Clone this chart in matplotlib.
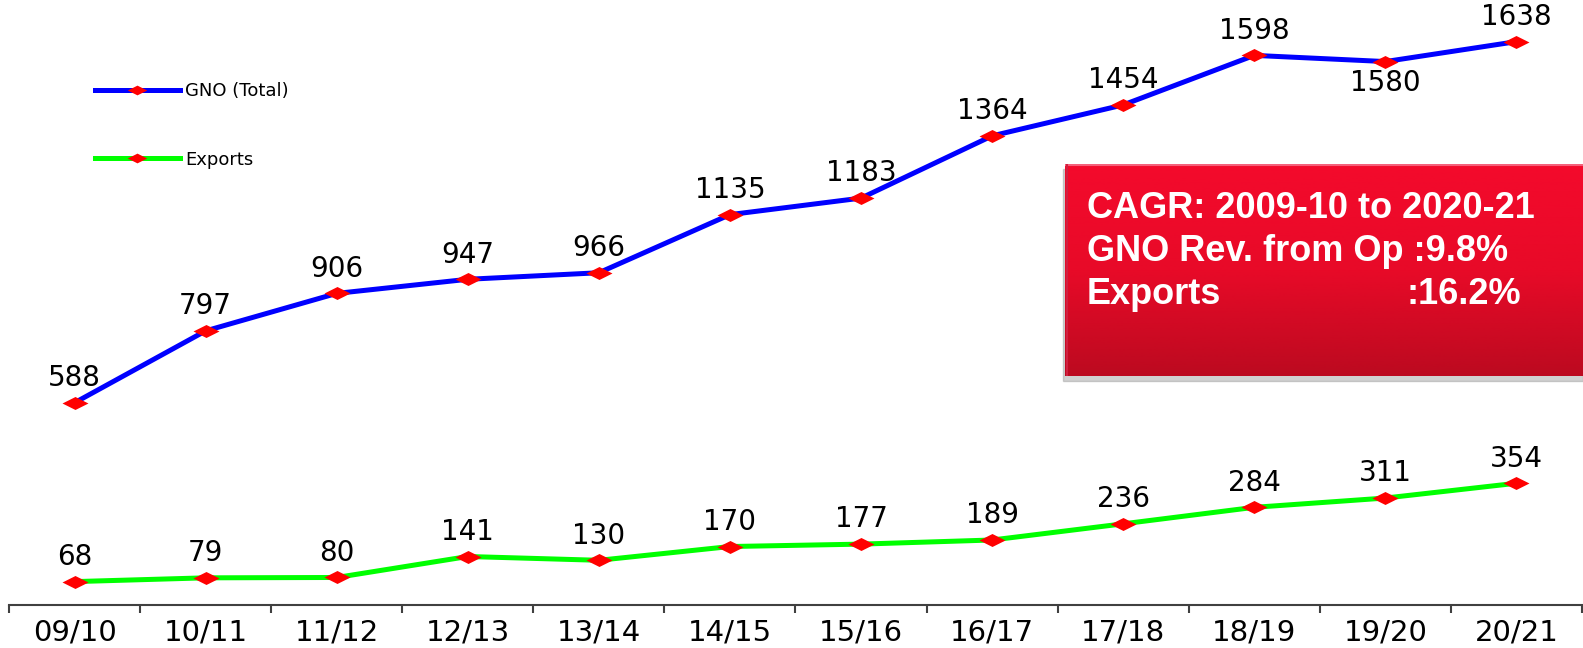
import numpy as np
import matplotlib
matplotlib.use("Agg")
import matplotlib.pyplot as plt
from matplotlib.colors import LinearSegmentedColormap
from matplotlib.patches import Rectangle

years = ["09/10", "10/11", "11/12", "12/13", "13/14", "14/15",
         "15/16", "16/17", "17/18", "18/19", "19/20", "20/21"]
gno_total = [588, 797, 906, 947, 966, 1135, 1183, 1364, 1454, 1598, 1580, 1638]
exports = [68, 79, 80, 141, 130, 170, 177, 189, 236, 284, 311, 354]
box_lines = ["CAGR: 2009-10 to 2020-21", "GNO Rev. from Op :9.8%", "Exports", ":16.2%"]

W, H = 1583, 648
fig = plt.figure(figsize=(W / 100, H / 100), dpi=100)
plt.rcParams['font.family'] = ['DejaVu Sans']

ax = fig.add_axes([9 / W, 1 - 605 / H, 1573 / W, 605 / H])
x = np.arange(len(years))
diamond = [(-1, 0), (0, 0.5), (1, 0), (0, -0.5), (-1, 0)]

ax.plot(x, gno_total, color='#0000FF', lw=3.6, marker=diamond, ms=18.7,
        mfc='#FF0000', mec='#FF0000', mew=0, label='GNO (Total)', zorder=3)
ax.plot(x, exports, color='#00FF00', lw=3.6, marker=diamond, ms=18.7,
        mfc='#FF0000', mec='#FF0000', mew=0, label='Exports', zorder=3)

ax.set_xlim(-0.5, 11.5)
ax.set_ylim(0, 1759)
for s in ['left', 'top', 'right']:
    ax.spines[s].set_visible(False)
ax.spines['bottom'].set_color('#404040')
ax.spines['bottom'].set_linewidth(1.5)
ax.set_yticks([])
ax.set_xticks(np.arange(-0.5, 12, 1))
ax.set_xticklabels([])
ax.tick_params(axis='x', which='major', length=6, width=1.5, color='#404040', direction='out')
ax.set_xticks(x, minor=True)
ax.set_xticklabels(years, minor=True, fontsize=21)
ax.tick_params(axis='x', which='minor', length=0, pad=10)
ax.patch.set_alpha(0)

def label(series, below=()):
    for i, v in enumerate(series):
        if i in below:
            ax.annotate(str(v), (i, v), xytext=(0, -21), textcoords='offset points',
                        ha='center', va='baseline', fontsize=20, color='black')
        else:
            ax.annotate(str(v), (i, v), xytext=(0, 12), textcoords='offset points',
                        ha='center', va='baseline', fontsize=20, color='black')

label(gno_total, below=(10,))
label(exports)

leg = ax.legend(loc='upper left', bbox_to_anchor=(95 / W, 1 - 82 / H),
                bbox_transform=fig.transFigure, frameon=False, fontsize=13,
                handlelength=4.7, handletextpad=0.3, labelspacing=2.8,
                borderpad=0, borderaxespad=0, markerscale=0.75, numpoints=1)

# CAGR box
bl, bt, bb = 1065, 164, 376
shadow = Rectangle(((bl - 2) / W, 1 - (bb + 5) / H), (W - bl + 2) / W, (bb - bt) / H,
                   transform=fig.transFigure, color='#999999', alpha=0.45, zorder=1)
fig.patches.append(shadow)
bax = fig.add_axes([bl / W, 1 - bb / H, (W - bl) / W, (bb - bt) / H], zorder=5)
cmap = LinearSegmentedColormap.from_list('r', ['#F40A2C', '#E80A28', '#BC0A20'])
grad = np.linspace(0, 1, 256).reshape(-1, 1)
bax.imshow(grad, aspect='auto', cmap=cmap, extent=[0, 1, 0, 1], origin='upper')
bax.plot([0, 1], [0.993, 0.993], color='#F4607A', lw=1.5)
bax.plot([0.003, 0.003], [0, 1], color='#D02040', lw=1.5)
bax.set_xlim(0, 1); bax.set_ylim(0, 1)
bax.axis('off')

tk = dict(color='white', fontsize=26, fontweight='bold', family=['Liberation Sans'],
          va='baseline', ha='left', zorder=10)
fig.text(1087 / W, 1 - 218 / H, box_lines[0], **tk)
fig.text(1087 / W, 1 - 261 / H, box_lines[1], **tk)
fig.text(1087 / W, 1 - 304 / H, box_lines[2], **tk)
fig.text(1406 / W, 1 - 304 / H, box_lines[3], **tk)

fig.savefig('out.png', dpi=100)
